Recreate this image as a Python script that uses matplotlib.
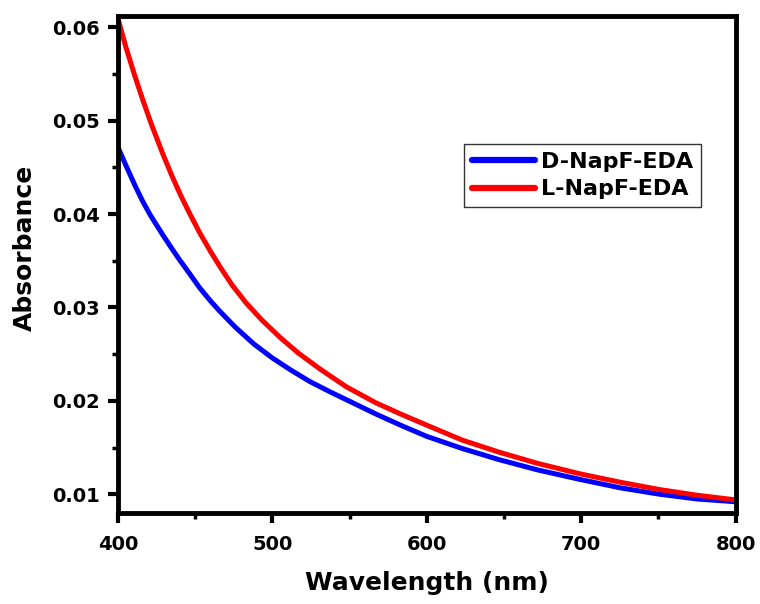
import matplotlib
matplotlib.use("Agg")
import matplotlib.pyplot as plt
from matplotlib.ticker import MultipleLocator

plt.rcParams['font.family'] = ['DejaVu Sans']
plt.rcParams['font.weight'] = 'bold'

wl_L = [400, 405, 411, 416, 422, 429, 435, 441, 447, 453, 460, 466, 474, 483, 493, 505, 517, 531, 548, 567,
        583, 600, 623, 647, 672, 699, 725, 751, 775, 800]
abs_L = [0.0610, 0.0580, 0.0548, 0.0523, 0.0495, 0.0465, 0.0441, 0.0419, 0.0399, 0.0380, 0.0360, 0.0344,
         0.0324, 0.0305, 0.0287, 0.0268, 0.0251, 0.0234, 0.0215, 0.0198, 0.0186, 0.0174, 0.0158, 0.0145,
         0.0133, 0.0122, 0.0113, 0.0105, 0.0099, 0.0094]

wl_D = [400, 405, 411, 416, 421, 429, 435, 440, 447, 453, 460, 466, 476, 488, 500, 512, 524, 537, 552, 567,
        583, 600, 623, 647, 672, 699, 725, 751, 775, 800]
abs_D = [0.0472, 0.0453, 0.0431, 0.0414, 0.0399, 0.0378, 0.0363, 0.0351, 0.0335, 0.0321, 0.0307, 0.0296,
         0.0279, 0.0261, 0.0246, 0.0233, 0.0221, 0.0210, 0.0198, 0.0186, 0.0174, 0.0162, 0.0149, 0.0137,
         0.0126, 0.0116, 0.0107, 0.0100, 0.0095, 0.0092]

series_names = ['D-NapF-EDA', 'L-NapF-EDA']
colors = ['#0000ff', '#ff0000']
y_ticks = [0.01, 0.02, 0.03, 0.04, 0.05, 0.06]
y_tick_labels = ['0.01', '0.02', '0.03', '0.04', '0.05', '0.06']

fig = plt.figure(figsize=(7.6, 6.04), dpi=100)
ax = fig.add_axes([0.155, 0.1507, 0.813, 0.8228])

ax.plot(wl_D, abs_D, color=colors[0], lw=3.6, label=series_names[0])
ax.plot(wl_L, abs_L, color=colors[1], lw=3.6, label=series_names[1])

ax.set_xlim(400, 800)
ax.set_ylim(0.0080, 0.0612)
ax.xaxis.set_major_locator(MultipleLocator(100))
ax.xaxis.set_minor_locator(MultipleLocator(50))
ax.yaxis.set_minor_locator(MultipleLocator(0.005))
ax.set_yticks(y_ticks)
ax.set_yticklabels(y_tick_labels)

for s in ax.spines.values():
    s.set_linewidth(3.5)
ax.tick_params(axis='both', which='major', direction='out', length=7, width=3, labelsize=14, pad=6)
ax.tick_params(axis='x', which='major', pad=9)
ax.tick_params(axis='both', which='minor', direction='out', length=4, width=2.5)
ax.tick_params(top=False, right=False, which='both')
for lab in ax.get_xticklabels() + ax.get_yticklabels():
    lab.set_fontweight('bold')

ax.set_xlabel('Wavelength (nm)', fontsize=18, fontweight='bold', labelpad=12)
ax.set_ylabel('Absorbance', fontsize=18, fontweight='bold', labelpad=11, y=0.534)

leg = ax.legend(loc='upper left', bbox_to_anchor=(0.561, 0.742), fontsize=16,
                frameon=True, fancybox=False, edgecolor='black', handlelength=2.8,
                handletextpad=0.3, borderpad=0.36, labelspacing=0.32, borderaxespad=0)
leg.get_frame().set_linewidth(1.0)
for line in leg.get_lines():
    line.set_linewidth(4.5)
    line.set_solid_capstyle('round')
for t in leg.get_texts():
    t.set_fontweight('bold')

fig.savefig('out.png', dpi=100)
